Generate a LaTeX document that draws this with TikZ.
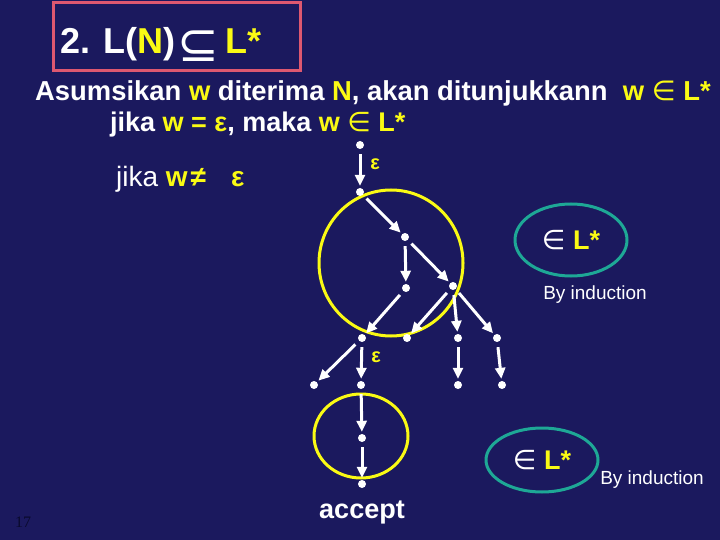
\documentclass[tikz,border=0pt]{standalone}
\usepackage{fontspec}
\setmainfont{Liberation Sans}
\newfontfamily\symfont{DejaVu Sans}
\newfontfamily\pagefont{Liberation Serif}
\usetikzlibrary{arrows.meta,shapes.geometric}

\definecolor{bgnavy}{RGB}{27,25,94}
\definecolor{hiyellow}{RGB}{250,250,20}
\definecolor{ringteal}{RGB}{30,168,150}
\definecolor{boxpink}{RGB}{222,88,112}
\definecolor{pagedark}{RGB}{10,10,45}

\newcommand{\yw}[1]{\textcolor{hiyellow}{#1}}

\begin{document}
\begin{tikzpicture}[x=1pt, y=-1pt
	, dot/.style={circle, fill=white, inner sep=0pt, minimum size=8pt}
	, arr/.style={-{Triangle[length=11pt,width=10pt]}, white, line width=3pt
		, shorten <=5pt, shorten >=2pt}
	, yring/.style={draw=hiyellow, line width=3pt}
	, tring/.style={ellipse, draw=ringteal, line width=3pt, inner sep=0pt}
	, txt/.style={anchor=base west, inner sep=0pt, text=white}
	, eps/.style={text=hiyellow, font=\fontsize{20}{24}\selectfont\bfseries}
	, induct/.style={text=white, font=\fontsize{19}{22}\selectfont}
]

\useasboundingbox (0,0) rectangle (720,540);
\fill[bgnavy] (0,0) rectangle (720,540);

% title
\draw[boxpink, line width=3pt] (53,3) rectangle (300,71);
\node[txt, font=\fontsize{36}{40}\selectfont\bfseries](title) at(60,54)
	{2. L(\yw{N})\hspace{2pt}\raisebox{-8pt}{\fontsize{50}{50}\selectfont\mdseries\symfont ⊆}\hspace{6pt}\yw{L*}};

\node[txt, font=\fontsize{27.4}{32}\selectfont\bfseries](line1) at(35,101)
	{Asumsikan \yw{w} diterima \yw{N}, akan ditunjukkann\ \ \yw{w {\mdseries\symfont ∈} L*}};
\node[txt, font=\fontsize{27}{32}\selectfont\bfseries](line2) at(110,132)
	{jika \yw{w = ε}, maka \yw{w {\mdseries\symfont ∈} L*}};
\node[txt, font=\fontsize{28}{32}\selectfont](line3) at(116,187)
	{jika \yw{\bfseries w\hspace{0.1em}≠\hspace{0.9em}ε}};

% yellow rings
\draw[yring] (391,263) ellipse [x radius=72pt, y radius=73pt];
\draw[yring] (361,436) ellipse [x radius=47pt, y radius=42pt];

% states
\foreach [count=\i] \x/\y in {
	360/145, 360/192, 405/237, 406/288, 453/286,
	362/338, 407/338, 458/338, 497/338,
	314/385, 361/385, 458/385, 502/385,
	362/438, 362/484%
}{
	\node[dot](p\i) at(\x,\y) {};
}

\foreach \a/\b in {1/2, 2/3, 3/4, 3/5, 4/6, 5/7, 5/8, 5/9,
	6/10, 6/11, 8/12, 9/13, 11/14, 14/15}{
	\draw[arr] (p\a) -- (p\b);
}

\node[eps](e1) at(375,164) {ε};
\node[eps](e2) at(376,357) {ε};

% L* rings
\node[tring, minimum width=112pt, minimum height=72pt](star1) at(571,240)
	{\fontsize{27}{32}\selectfont\color{white}{\symfont ∈} \yw{\bfseries L*}};
\node[induct](ind1) at(595,295) {By induction};

\node[tring, minimum width=112pt, minimum height=64pt](star2) at(542,460)
	{\fontsize{27}{32}\selectfont\color{white}{\symfont ∈} \yw{\bfseries L*}};
\node[induct](ind2) at(652,480) {By induction};

\node[text=white, font=\fontsize{27}{32}\selectfont\bfseries](acc) at(362,512) {accept};

\node[txt, text=pagedark, font=\fontsize{16}{18}\selectfont\pagefont](pg) at(15,527) {17};

\end{tikzpicture}
\end{document}
